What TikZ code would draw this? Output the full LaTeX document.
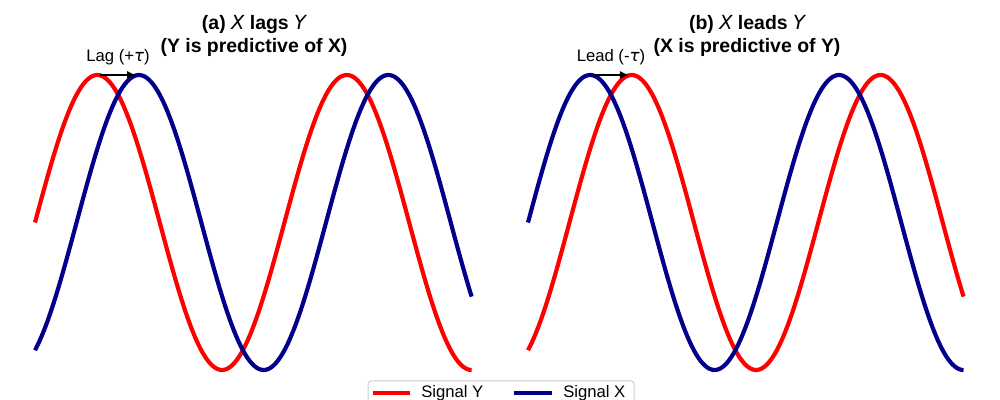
\documentclass[tikz,border=0pt]{standalone}
\usepackage{fontspec}
\setmainfont{Liberation Sans}
\newfontfamily\djvfont{DejaVu Sans}
\usetikzlibrary{arrows.meta}
\newlength{\du}
\setlength{\du}{0.72pt}
\definecolor{signalred}{rgb}{1.000000, 0.000000, 0.000000}
\definecolor{signalblue}{rgb}{0.000000, 0.000000, 0.545098}
\definecolor{legendframe}{rgb}{0.800000, 0.800000, 0.800000}
\tikzset{
  signaly/.style={draw=signalred, line width=3pt},
  signalx/.style={draw=signalblue, line width=3pt},
  lagarrow/.style={draw=black, line width=1.6pt, -{Latex[length=6.5pt,width=6pt]}, shorten <=2pt, shorten >=2pt},
  paneltitle/.style={font=\fontsize{14}{16.6}\selectfont\bfseries, align=center, inner sep=0pt},
  notetext/.style={font=\fontsize{12}{14}\selectfont, inner sep=0pt},
}
\newcommand{\mathvar}[1]{{\djvfont\mdseries\itshape #1}}

\begin{document}
\begin{tikzpicture}
\pgftransformxscale{1.000000}
\pgftransformyscale{-1.000000}
\useasboundingbox (0\du,0\du) rectangle (1000\du,400\du);
% panel (a)
\draw[signaly] plot[domain=0:11, samples=200, smooth] ({(35+39.7*\x)*\du}, {(222.5-147.5*sin(\x r))*\du});
\draw[signalx] plot[domain=0:11, samples=200, smooth] ({(35+39.7*\x)*\du}, {(222.5-147.5*sin((\x-1.047198) r))*\du});
\coordinate (peakya) at (97.4\du,75\du);
\coordinate (peakxa) at (138.9\du,75\du);
\draw[lagarrow] (peakya) -- (peakxa);
\node[notetext] (lagnote) at (118\du,57\du){Lag (+\mathvar{τ})};
\node[paneltitle] (titlea) at (254\du,35.5\du){(a) \mathvar{X} lags \mathvar{Y}\\(Y is predictive of X)};
% panel (b)
\draw[signaly] plot[domain=0:11, samples=200, smooth] ({(528+39.6*\x)*\du}, {(222.5-147.5*sin((\x-1.047198) r))*\du});
\draw[signalx] plot[domain=0:11, samples=200, smooth] ({(528+39.6*\x)*\du}, {(222.5-147.5*sin(\x r))*\du});
\coordinate (peakxb) at (590.2\du,75\du);
\coordinate (peakyb) at (631.7\du,75\du);
\draw[lagarrow] (peakxb) -- (peakyb);
\node[notetext] (leadnote) at (611\du,57\du){Lead (-\mathvar{τ})};
\node[paneltitle] (titleb) at (747\du,35.5\du){(b) \mathvar{X} leads \mathvar{Y}\\(X is predictive of Y)};
% legend
\draw[draw=legendframe, fill=white, line width=1\du, rounded corners=3\du] (368\du,381\du) rectangle (634\du,414\du);
\draw[signaly] (373\du,393\du) -- (410\du,393\du);
\node[notetext, anchor=west] (legendy) at (421\du,393\du){Signal Y};
\draw[signalx] (514\du,393\du) -- (552\du,393\du);
\node[notetext, anchor=west] (legendx) at (563\du,393\du){Signal X};
\end{tikzpicture}
\end{document}
